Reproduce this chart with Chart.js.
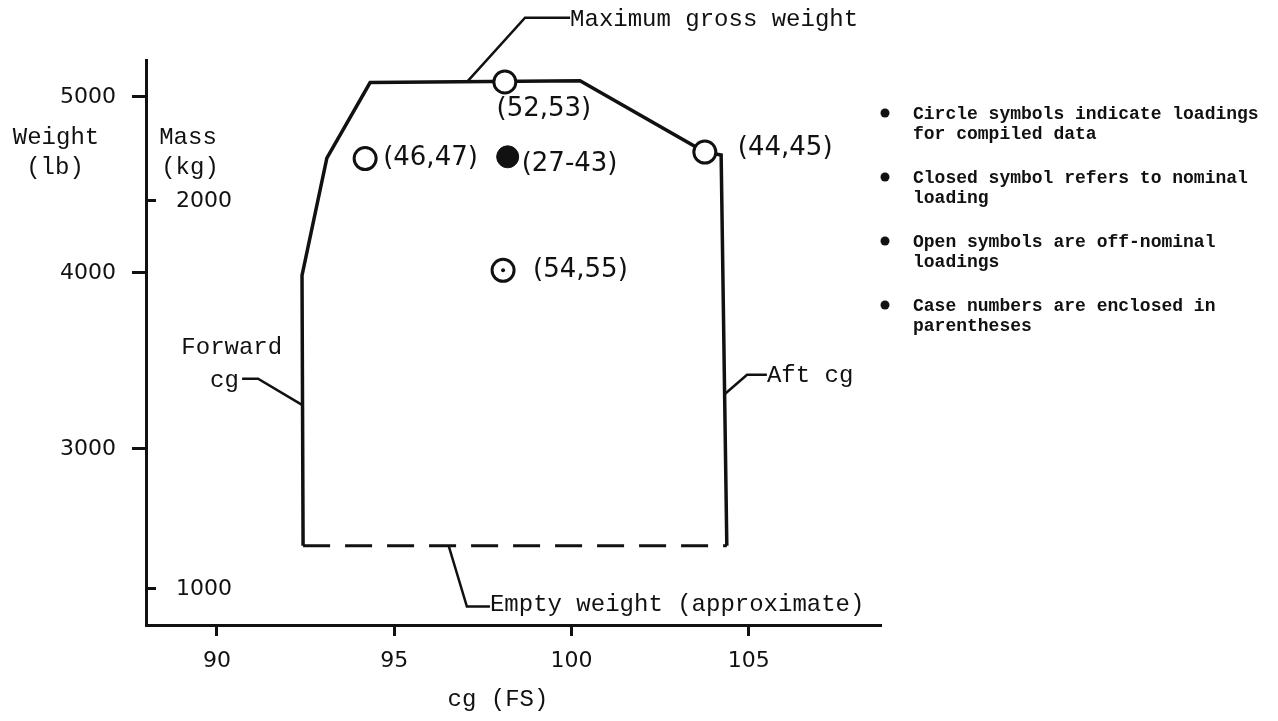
<!DOCTYPE html>
<html>
<head>
<meta charset="utf-8">
<script src="https://cdn.jsdelivr.net/npm/chart.js@4.4.1/dist/chart.umd.min.js"></script>
<style>
  html, body { margin: 0; padding: 0; background: #fff; }
  #wrap { width: 1278px; height: 721px; }
</style>
</head>
<body>
<div id="wrap"><canvas id="cgChart" width="1278" height="721"></canvas></div>
<script>
// cg envelope (cg in FS, weight in lb)
const envelopeCg = [92.43, 92.40, 93.10, 94.32, 100.24, 103.76, 104.22, 104.38];
const envelopeLb = [2450, 3986, 4652, 5082, 5092, 4687, 4670, 2450];
// empty weight (approximate), dashed
const emptyCg = [92.43, 104.38];
const emptyLb = [2450, 2450];

// loadings for compiled data
const openCg = [94.18, 98.12, 103.76];
const openLb = [4650, 5085, 4687];
const openCases = ['(46,47)', '(52,53)', '(44,45)'];
const closedCg = [98.20];
const closedLb = [4660];
const closedCases = ['(27-43)'];
const dotCg = [98.07];
const dotLb = [4015];
const dotCases = ['(54,55)'];

// axes
const xTicks = [90, 95, 100, 105];
const lbTicks = [3000, 4000, 5000];
const kgTicks = [1000, 2000];
const LB_PER_KG = 2.20462;

// leader lines for the callouts
const maxGrossLeader = [[97.08, 5091], [98.69, 5450], [99.96, 5450]];
const forwardLeader = [[92.40, 3251], [91.16, 3399], [90.71, 3399]];
const aftLeader = [[104.30, 3308], [104.95, 3422], [105.51, 3422]];
const emptyLeader = [[96.54, 2447], [97.05, 2105], [97.70, 2105]];

const callouts = [
  { text: 'Maximum gross weight', cg: 99.96, lb: 5439, align: 'left' },
  { text: 'Forward', cg: 91.84, lb: 3575, align: 'right' },
  { text: 'cg', cg: 90.62, lb: 3387, align: 'right' },
  { text: 'Aft cg', cg: 105.51, lb: 3416, align: 'left' },
  { text: 'Empty weight (approximate)', cg: 97.70, lb: 2117, align: 'left' }
];

const notes = [
  ['Circle symbols indicate loadings', 'for compiled data'],
  ['Closed symbol refers to nominal', 'loading'],
  ['Open symbols are off-nominal', 'loadings'],
  ['Case numbers are enclosed in', 'parentheses']
];

const INK = '#111';
const MONO = '"Liberation Mono", "DejaVu Sans Mono", monospace';
const HAND = '"DejaVu Sans", sans-serif';

function toPoints(xs, ys) {
  return xs.map((v, i) => ({ x: v, y: ys[i] }));
}
function leader(pts) {
  return {
    data: pts.map(p => ({ x: p[0], y: p[1] })),
    showLine: true, borderColor: INK, borderWidth: 2.5,
    pointRadius: 0, clip: false, order: 5
  };
}

// case-number labels placed beside their symbols (pixel offsets)
const caseOffsets = {
  '(46,47)': [18, 0, 'left'],
  '(52,53)': [39, 27, 'center'],
  '(44,45)': [33, -4, 'left'],
  '(27-43)': [14, 7, 'left'],
  '(54,55)': [30, 0, 'left']
};

const textPlugin = {
  id: 'cgText',
  afterDraw(chart) {
    const { ctx, scales: { x, y } } = chart;
    ctx.save();
    ctx.fillStyle = INK;
    ctx.textBaseline = 'middle';

    // callouts
    ctx.font = '24px ' + MONO;
    callouts.forEach(c => {
      ctx.textAlign = c.align;
      ctx.fillText(c.text, x.getPixelForValue(c.cg), y.getPixelForValue(c.lb));
    });

    // axis titles
    ctx.textAlign = 'center';
    ctx.fillText('Weight', 56, 138);
    ctx.fillText('(lb)', 55, 168);
    ctx.fillText('Mass', 188, 138);
    ctx.fillText('(kg)', 190, 168);
    ctx.fillText('cg (FS)', 498, 700);

    // case numbers
    ctx.font = '26px ' + HAND;
    const cases = [
      [openCg, openLb, openCases],
      [closedCg, closedLb, closedCases],
      [dotCg, dotLb, dotCases]
    ];
    cases.forEach(([cx, cy, names]) => {
      names.forEach((name, i) => {
        const off = caseOffsets[name];
        ctx.textAlign = off[2];
        ctx.fillText(name, x.getPixelForValue(cx[i]) + off[0], y.getPixelForValue(cy[i]) + off[1]);
      });
    });

    // notes at right
    ctx.font = 'bold 18px ' + MONO;
    ctx.textAlign = 'left';
    notes.forEach((lines, i) => {
      const top = 114 + i * 64;
      ctx.beginPath();
      ctx.arc(885, top - 1, 4.5, 0, Math.PI * 2);
      ctx.fill();
      lines.forEach((ln, j) => ctx.fillText(ln, 913, top + j * 20));
    });
    ctx.restore();
  }
};

const tickFont = { family: HAND, size: 22 };
const plain = v => String(v);

new Chart(document.getElementById('cgChart'), {
  type: 'scatter',
  data: {
    datasets: [
      {
        data: toPoints(dotCg, dotLb), pointRadius: 2, pointBackgroundColor: INK,
        pointBorderWidth: 0, order: 0
      },
      {
        data: toPoints(dotCg, dotLb), pointRadius: 11, pointBackgroundColor: '#fff',
        pointBorderColor: INK, pointBorderWidth: 3, order: 1
      },
      {
        data: toPoints(openCg, openLb), pointRadius: 11, pointBackgroundColor: '#fff',
        pointBorderColor: INK, pointBorderWidth: 3, order: 1
      },
      {
        data: toPoints(closedCg, closedLb), pointRadius: 11, pointBackgroundColor: INK,
        pointBorderColor: INK, pointBorderWidth: 1, order: 1
      },
      {
        data: toPoints(envelopeCg, envelopeLb), showLine: true, borderColor: INK,
        borderWidth: 3.5, pointRadius: 0, order: 3, clip: false
      },
      {
        data: toPoints(emptyCg, emptyLb), showLine: true, borderColor: INK,
        borderWidth: 3, borderDash: [27, 15], pointRadius: 0, order: 3
      },
      leader(maxGrossLeader),
      leader(forwardLeader),
      leader(aftLeader),
      leader(emptyLeader)
    ]
  },
  options: {
    responsive: false,
    animation: false,
    events: [],
    layout: { padding: { top: 60, right: 398, left: 0, bottom: 0 } },
    plugins: { legend: { display: false }, tooltip: { enabled: false } },
    scales: {
      x: {
        type: 'linear', min: 88, max: 108.7,
        afterBuildTicks: s => { s.ticks = xTicks.map(v => ({ value: v })); },
        afterFit: s => { s.height = 96; },
        grid: { drawOnChartArea: false, tickLength: 11, lineWidth: 3, color: INK },
        border: { color: INK, width: 3 },
        ticks: { font: tickFont, color: INK, padding: 12, maxRotation: 0, autoSkip: false, callback: plain }
      },
      y: {
        type: 'linear', position: 'left', weight: 10, min: 2000, max: 5210,
        afterBuildTicks: s => { s.ticks = lbTicks.map(v => ({ value: v })); },
        afterFit: s => { s.width = 146; },
        grid: { drawOnChartArea: false, tickLength: 14, lineWidth: 3, color: INK },
        border: { color: INK, width: 3 },
        ticks: { font: tickFont, color: INK, padding: 16, autoSkip: false, callback: plain }
      },
      kg: {
        type: 'linear', position: 'left', weight: 0,
        min: 2000 / LB_PER_KG, max: 5210 / LB_PER_KG,
        afterBuildTicks: s => { s.ticks = kgTicks.map(v => ({ value: v })); },
        afterFit: s => { s.width = 0; },
        grid: { drawOnChartArea: false, tickLength: -10, lineWidth: 3, color: INK },
        border: { display: false },
        ticks: { mirror: true, font: tickFont, color: INK, padding: 30, autoSkip: false, callback: plain }
      }
    }
  },
  plugins: [textPlugin]
});
</script>
</body>
</html>
